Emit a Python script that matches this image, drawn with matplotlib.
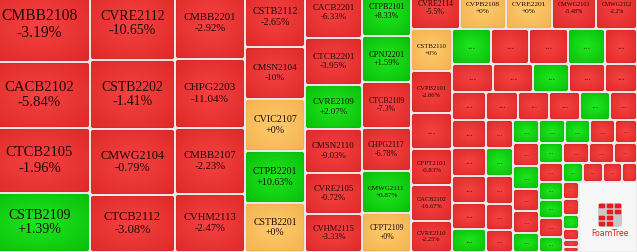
import numpy as np
import matplotlib
matplotlib.use("Agg")
import matplotlib.pyplot as plt
from matplotlib.patches import FancyBboxPatch, Rectangle
from matplotlib.textpath import TextPath
from matplotlib.font_manager import FontProperties
from matplotlib.colors import to_rgb

# Treemap sizes are relative areas; the rendered view is cropped a bit (top / left)
col1_names = ["CMBB2108", "CACB2102", "CTCB2105", "CSTB2109"]
col1_change = [-3.19, -5.84, -1.96, 1.39]
col1_size = [7575, 6666, 6565, 5959]

col2_names = ["CVRE2112", "CSTB2202", "CMWG2104", "CTCB2112"]
col2_change = [-10.65, -1.41, -0.79, -3.08]
col2_size = [6205, 5865, 5610, 4845]

col3_names = ["CMBB2201", "CHPG2203", "CMBB2107", "CVHM2113"]
col3_change = [-2.92, -11.04, -2.23, -2.47]
col3_size = [5040, 4830, 4620, 4060]

col4_names = ["CSTB2112", "CMSN2104", "CVIC2107", "CTPB2201", "CSTB2201"]
col4_change = [-2.65, -10, 0, 10.63, 0]
col4_size = [3600, 3120, 3120, 3120, 2940]

col5_names = ["CACB2201", "CTCB2201", "CVRE2109", "CMSN2110", "CVRE2105", "CVHM2115"]
col5_change = [-6.33, -3.95, 2.07, -9.03, -0.72, -3.33]
col5_size = [2907, 2679, 2508, 2508, 2337, 2166]

col6_names = ["CTPB2101", "CPNJ2201", "CTCB2109", "CHPG2117", "CMWG2111", "CFPT2109"]
col6_change = [8.33, 1.59, -7.3, -6.78, 0.87, 0]
col6_size = [2401, 2254, 2254, 2107, 2058, 1911]

top_names = ["CVRE2114", "CVPB2108", "CVRE2201", "CMWG2101", "CMWG2112"]
top_change = [-5.5, 0, 0, -5.48, -2.2]
top_size = [2058, 1932, 1932, 1848, 1722]

left_names = ["CSTB2110", "CVPB2101", None, "CFPT2101", "CACB2102", "CVRE2110"]
left_change = [0, -2.86, None, -0.83, -16.67, -2.25]
left_sign = [0, -1, -1, -1, -1, -1]
left_size = [1722, 1722, 1476, 1476, 1476, 1271]

# small unlabeled tiles: only direction (1 up, -1 down) is visible
rowA_sign = [1, -1, -1, 1, -1]
rowA_size = [1365, 1330, 1365, 1295, 1120]
rowB_sign = [-1, -1, 1, -1, -1]
rowB_size = [1148, 1120, 1008, 1008, 896]
rowC_sign = [-1, -1, -1, -1, 1, -1]
rowC_size = [952, 896, 868, 868, 840, 756]
p1_sign = [-1, -1, -1, -1, 1]
p1_size = [952, 952, 918, 884, 782]
p2_sign = [-1, 1, -1, -1, -1]
p2_size = [756, 756, 756, 702, 594]
rowD_sign = [1, 1, 1, -1, -1]
rowD_size = [598, 598, 575, 575, 506]
q2a_sign = [-1, 1, -1, -1, 1]
q2a_size = [598, 598, 572, 572, 494]
q2b_sign = [1, -1, 1, 1, -1, 1]
q2b_size = [480, 456, 432, 432, 456, 360]
rowE_sign = [-1, -1, -1]
rowE_size = [520, 500, 460]
rowF_sign = [1, -1, -1, -1]
rowF_size = [380, 380, 361, 285]
s_sign = [-1, -1, 1, -1, -1, -1]
s_size = [272, 256, 224, 176, 112, 80]
empty_size = 4060

CANVAS_W, CANVAS_H = 648, 265
VIEW_X, VIEW_Y = 11, 13

FONT = FontProperties(family="Liberation Serif")
COLORS = {
    -1: ("#f64242", "#e02a2a"),
    1: ("#1ee81e", "#0bbf0b"),
    0: ("#fdcb6e", "#f4b450"),
}


def strip(direction, sizes, names=None, changes=None, signs=None):
    leaves = []
    for i, s in enumerate(sizes):
        if names is not None and names[i] is not None:
            leaves.append({"name": names[i], "change": changes[i],
                           "sign": int(np.sign(changes[i])), "size": s})
        else:
            leaves.append({"name": "...", "change": None, "sign": signs[i], "size": s})
    return (direction, leaves)


def total(node):
    if isinstance(node, dict):
        return node["size"]
    return sum(total(k) for k in node[1])


def place(node, x, y, w, h, out):
    if isinstance(node, dict):
        out.append((x, y, w, h, node))
        return
    direction, kids = node
    t = total(node)
    pos = 0.0
    for k in kids:
        f = total(k) / t
        if direction == "h":
            place(k, x + pos * w, y, f * w, h, out)
        else:
            place(k, x, y + pos * h, w, f * h, out)
        pos += f


def gradient(sign):
    c_in, c_out = (np.array(to_rgb(c)) for c in COLORS[sign])
    u = np.linspace(-1, 1, 24)
    xx, yy = np.meshgrid(u, u)
    r = np.clip(np.sqrt(xx ** 2 + yy ** 2) / np.sqrt(2), 0, 1)[..., None]
    return c_in * (1 - r) + c_out * r


def text_em(s):
    return TextPath((0, 0), s, size=1, prop=FONT).get_extents().width


empty_tile = {"name": None, "change": None, "sign": None, "size": empty_size}

tree = ("h", [
    strip("v", col1_size, col1_names, col1_change),
    strip("v", col2_size, col2_names, col2_change),
    strip("v", col3_size, col3_names, col3_change),
    strip("v", col4_size, col4_names, col4_change),
    strip("v", col5_size, col5_names, col5_change),
    strip("v", col6_size, col6_names, col6_change),
    ("v", [
        strip("h", top_size, top_names, top_change),
        ("h", [
            strip("v", left_size, left_names, left_change, left_sign),
            ("v", [
                strip("h", rowA_size, signs=rowA_sign),
                strip("h", rowB_size, signs=rowB_sign),
                strip("h", rowC_size, signs=rowC_sign),
                ("h", [
                    strip("v", p1_size, signs=p1_sign),
                    strip("v", p2_size, signs=p2_sign),
                    ("v", [
                        strip("h", rowD_size, signs=rowD_sign),
                        ("h", [
                            strip("v", q2a_size, signs=q2a_sign),
                            strip("v", q2b_size, signs=q2b_sign),
                            ("v", [
                                strip("h", rowE_size, signs=rowE_sign),
                                strip("h", rowF_size, signs=rowF_sign),
                                ("h", [strip("v", s_size, signs=s_sign), empty_tile]),
                            ]),
                        ]),
                    ]),
                ]),
            ]),
        ]),
    ]),
])

rects = []
place(tree, 0, 0, CANVAS_W, CANVAS_H, rects)

DPI = 100
PT = 72 / DPI  # points per pixel
GAP = 1.0

fig = plt.figure(figsize=(6.37, 2.52), dpi=DPI, facecolor="#ececec")
ax = fig.add_axes([0, 0, 1, 1])
ax.set_facecolor("#ececec")

for x, y, w, h, leaf in rects:
    x0, y0, x1, y1 = x + GAP, y + GAP, x + w - GAP, y + h - GAP
    if leaf["sign"] is None:
        # empty area with the FoamTree logo
        ax.add_patch(Rectangle((x0, y0), x1 - x0, y1 - y0, fc="#f6f6f6", ec="none", zorder=1))
        cx = x + w / 2 + 2
        cy = y + h / 2 - 2
        s = 24
        ax.add_patch(FancyBboxPatch((cx - s / 2, cy - s / 2), s, s,
                                    boxstyle="round,pad=0,rounding_size=3",
                                    fc="#c8c8c8", ec="none", zorder=2))
        cells = [(0, 0, 1), (1, 0, 1), (2, 0, 1), (0, 1, 0), (1, 1, 1), (2, 1, 1),
                 (0, 2, 1), (1, 2, 1), (2, 2, 0), (0, 3, 1), (1, 3, 1), (2, 3, 0)]
        cw, ch = s / 3, s / 4
        for i, j, red in cells:
            if red:
                ax.add_patch(FancyBboxPatch((cx - s / 2 + i * cw + 0.8, cy - s / 2 + j * ch + 0.7),
                                            cw - 1.6, ch - 1.4,
                                            boxstyle="round,pad=0,rounding_size=1",
                                            fc="#e81c1c", ec="none", zorder=3))
        ax.text(cx, cy + s / 2 + 6, "FoamTree", ha="center", va="center",
                fontsize=6.5 * PT * 1.2, color="#d42020", family="DejaVu Sans", zorder=3)
        continue

    patch = FancyBboxPatch((x0, y0), x1 - x0, y1 - y0,
                           boxstyle="round,pad=0,rounding_size=2",
                           fc="none", ec=(0, 0, 0, 0.06), lw=0.6, zorder=2)
    ax.add_patch(patch)
    im = ax.imshow(gradient(leaf["sign"]), extent=(x0, x1, y1, y0),
                   interpolation="bilinear", zorder=1)
    im.set_clip_path(patch)

    cx, cy = x + w / 2, y + h / 2
    if leaf["change"] is None:
        if w >= 12 and h >= 9:
            fs = min(w / 3.2, 11)
            ax.text(cx, cy, "...", ha="center", va="center", fontsize=fs * PT,
                    color="#3a0c0c", alpha=0.75, fontproperties=FONT, zorder=3)
        continue

    # label size grows with the tile area, but must fit the tile width
    pct = f"{leaf['change']:+g}%"
    fs = min(0.18 * np.sqrt(w * h), 0.76 * (w - 2 * GAP) / text_em(leaf["name"]), 0.3 * h)
    dy = 0.52 * fs
    ax.text(cx, cy - dy, leaf["name"], ha="center", va="center", fontsize=fs * PT,
            color="#1e0808", fontproperties=FONT, zorder=3)
    ax.text(cx, cy + dy, pct, ha="center", va="center", fontsize=fs * PT,
            color="#1e0808", fontproperties=FONT, zorder=3)

ax.set_aspect("auto")
ax.set_xlim(VIEW_X, CANVAS_W)
ax.set_ylim(CANVAS_H, VIEW_Y)
ax.axis("off")

fig.savefig("out.png", dpi=DPI, facecolor=fig.get_facecolor())
